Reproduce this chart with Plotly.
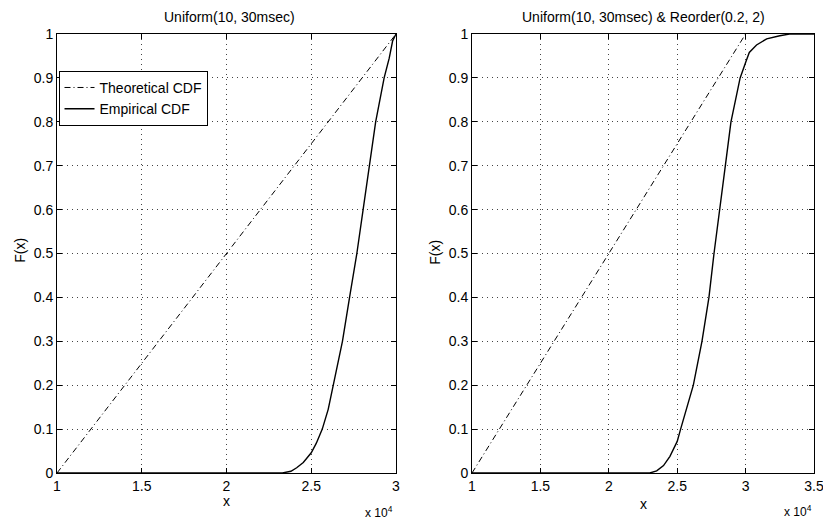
import plotly.graph_objects as go

# ---- data ----
theo_x = [10000, 30000]
theo_y = [0.0, 1.0]

emp1_x = [10000, 23300, 23800, 24140, 24530, 25000, 25300, 25650, 26000, 26300,
          26840, 27260, 27690, 28060, 28430, 28800, 29300, 29600, 29800, 30000]
emp1_y = [0.0, 0.0, 0.004, 0.012, 0.024, 0.046, 0.068, 0.10, 0.145, 0.20,
          0.30, 0.40, 0.50, 0.60, 0.70, 0.80, 0.90, 0.945, 0.984, 1.0]

emp2_x = [10000, 23000, 23500, 24000, 24470, 25000, 25250, 25700, 26180, 26810,
          27320, 27690, 28130, 28520, 28930, 29600, 30000, 30270, 30800, 31540,
          32500, 33200, 35000]
emp2_y = [0.0, 0.0, 0.005, 0.017, 0.038, 0.072, 0.10, 0.15, 0.20, 0.30,
          0.40, 0.50, 0.60, 0.70, 0.80, 0.90, 0.935, 0.958, 0.975, 0.989,
          0.996, 1.0, 1.0]

x1_ticks = [10000, 15000, 20000, 25000, 30000]
x1_labels = ["1", "1.5", "2", "2.5", "3"]
x2_ticks = [10000, 15000, 20000, 25000, 30000, 35000]
x2_labels = ["1", "1.5", "2", "2.5", "3", "3.5"]
y_ticks = [0, 0.1, 0.2, 0.3, 0.4, 0.5, 0.6, 0.7, 0.8, 0.9, 1.0]
y_labels = ["0", "0.1", "0.2", "0.3", "0.4", "0.5", "0.6", "0.7", "0.8", "0.9", "1"]

title_left = "Uniform(10, 30msec)"
title_right = "Uniform(10, 30msec) & Reorder(0.2, 2)"

FONT = "Liberation Sans, Arial, Helvetica, sans-serif"
W, H = 823, 523
ML, MR, MT, MB = 57, 9, 34, 49.5

fig = go.Figure()

dashdot = "6px,3px,1px,3px"
fig.add_trace(go.Scatter(x=theo_x, y=theo_y, mode="lines", name="Theoretical CDF",
                         line=dict(color="black", width=1, dash=dashdot),
                         xaxis="x", yaxis="y", showlegend=True))
fig.add_trace(go.Scatter(x=emp1_x, y=emp1_y, mode="lines", name="Empirical CDF",
                         line=dict(color="black", width=1.4),
                         xaxis="x", yaxis="y", showlegend=True))
fig.add_trace(go.Scatter(x=theo_x, y=theo_y, mode="lines", name="Theoretical CDF",
                         line=dict(color="black", width=1, dash=dashdot),
                         xaxis="x2", yaxis="y2", showlegend=False))
fig.add_trace(go.Scatter(x=emp2_x, y=emp2_y, mode="lines", name="Empirical CDF",
                         line=dict(color="black", width=1.4),
                         xaxis="x2", yaxis="y2", showlegend=False))

pw = W - ML - MR
d1 = [0, (396 - ML) / pw]
d2 = [(472 - ML) / pw, 1]

common = dict(showline=True, linecolor="black", linewidth=1, mirror="ticks",
              ticks="inside", ticklen=5, tickcolor="black", tickwidth=1,
              showgrid=True, gridcolor="#444", gridwidth=1, griddash="1px,4px",
              zeroline=False, automargin=False, ticklabeloverflow="allow",
              tickfont=dict(family=FONT, size=14, color="black"))

fig.update_layout(
    width=W, height=H, margin=dict(l=ML, r=MR, t=MT, b=MB),
    paper_bgcolor="white", plot_bgcolor="white",
    font=dict(family=FONT, size=14, color="black"),
    xaxis=dict(domain=d1, range=[10000, 30000], tickvals=x1_ticks, ticktext=x1_labels,
               anchor="y", **common),
    yaxis=dict(domain=[0, 1], range=[0, 1], tickvals=y_ticks, ticktext=y_labels,
               anchor="x", **common),
    xaxis2=dict(domain=d2, range=[10000, 35000], tickvals=x2_ticks, ticktext=x2_labels,
                anchor="y2", **common),
    yaxis2=dict(domain=[0, 1], range=[0, 1], tickvals=y_ticks, ticktext=y_labels,
                anchor="x2", **common),
    legend=dict(x=0.002, y=0.916, xanchor="left", yanchor="top",
                bgcolor="white", bordercolor="black", borderwidth=1,
                font=dict(family=FONT, size=14, color="black"),
                tracegroupgap=0, itemwidth=30),
    showlegend=True,
)

ann = []
def px_x(p):
    return (p - ML) / pw
def px_y(p):
    return (H - MB - p) / (H - MT - MB)

def add(text, x, y, size=14, angle=0):
    ann.append(dict(text=text, x=px_x(x), y=px_y(y), xref="paper", yref="paper",
                    xanchor="center", yanchor="middle", showarrow=False,
                    textangle=angle, font=dict(size=size)))

add(title_left, 229, 17, 14)
add(title_right, 643, 17, 14)
add("x", 226, 502, 14)
add("x", 643, 505, 14)
add("F(x)", 20, 251, 14, -90)
add("F(x)", 435, 253, 14, -90)
add("x 10<sup>4</sup>", 379, 513, 12)
add("x 10<sup>4</sup>", 798, 512, 12)
fig.update_layout(annotations=ann)

fig.write_html("out.html")
